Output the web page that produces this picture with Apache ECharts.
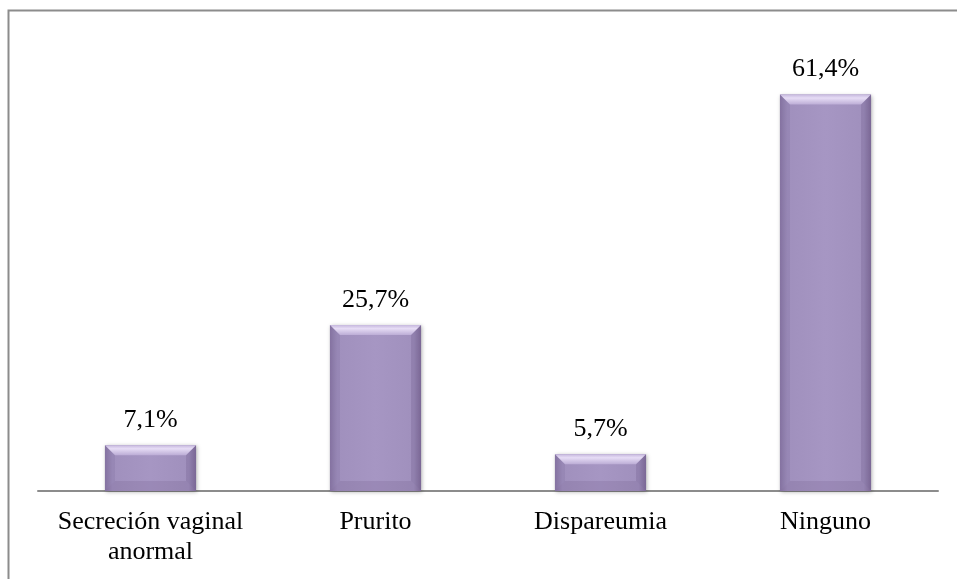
<!DOCTYPE html>
<html>
<head>
<meta charset="utf-8">
<script src="https://cdn.jsdelivr.net/npm/echarts@6/dist/echarts.min.js"></script>
<style>
  html, body { margin: 0; padding: 0; background: #ffffff; }
  #chart { width: 957px; height: 579px; }
</style>
</head>
<body>
<div id="chart"></div>
<script>
// Síntomas referidos (porcentaje de pacientes)
const categories = ['Secreción vaginal\nanormal', 'Prurito', 'Dispareumia', 'Ninguno'];
const percentages = [7.1, 25.7, 5.7, 61.4];

const FONT = '"Liberation Serif", "Times New Roman", serif';

function fmt(v) {
  return v.toFixed(1).replace('.', ',') + '%';
}

// Bevelled bar: body with side shading plus light top edge
function renderBar(params, api) {
  const idx = api.value(0);
  const val = api.value(1);
  const top = api.coord([idx, val]);
  const base = api.coord([idx, 0]);
  const w = api.size([1, 0])[0] * 0.405;
  const x0 = top[0] - w / 2;
  const x1 = top[0] + w / 2;
  const y0 = top[1];
  const y1 = base[1];
  const h = y1 - y0;
  const b = Math.min(10, h / 2.5, w / 6);

  const body = {
    type: 'linear', x: 0, y: 0, x2: 1, y2: 0,
    colorStops: [
      { offset: 0, color: '#8a78a6' },
      { offset: 0.08, color: '#a090bd' },
      { offset: 0.5, color: '#a696c3' },
      { offset: 0.92, color: '#a090bd' },
      { offset: 1, color: '#85729f' }
    ]
  };

  return {
    type: 'group',
    children: [
      {
        type: 'rect',
        shape: { x: x0, y: y0, width: w, height: h },
        style: { fill: body, shadowColor: 'rgba(0,0,0,0.3)', shadowBlur: 4, shadowOffsetX: 1, shadowOffsetY: 1 }
      },
      {
        type: 'polygon',
        shape: { points: [[x0, y0], [x1, y0], [x1 - b, y0 + b], [x0 + b, y0 + b]] },
        style: {
          fill: {
            type: 'linear', x: 0, y: 0, x2: 0, y2: 1,
            colorStops: [
              { offset: 0, color: '#c6b8de' },
              { offset: 0.35, color: '#e6dcf5' },
              { offset: 1, color: '#bcadd6' }
            ]
          }
        }
      },
      {
        type: 'polygon',
        shape: { points: [[x0, y0], [x0 + b, y0 + b], [x0 + b, y1 - b], [x0, y1]] },
        style: { fill: 'rgba(90,70,120,0.12)' }
      },
      {
        type: 'polygon',
        shape: { points: [[x1, y0], [x1 - b, y0 + b], [x1 - b, y1 - b], [x1, y1]] },
        style: { fill: 'rgba(70,50,100,0.16)' }
      },
      {
        type: 'polygon',
        shape: { points: [[x0, y1], [x0 + b, y1 - b], [x1 - b, y1 - b], [x1, y1]] },
        style: { fill: 'rgba(70,50,100,0.12)' }
      },
      {
        type: 'text',
        style: {
          text: fmt(val),
          x: top[0],
          y: y0 - 12,
          align: 'center',
          verticalAlign: 'bottom',
          font: '26px ' + FONT,
          fill: '#000000'
        }
      }
    ]
  };
}

const chart = echarts.init(document.getElementById('chart'));
chart.setOption({
  animation: false,
  backgroundColor: '#ffffff',
  graphic: [{
    type: 'rect',
    shape: { x: 8.5, y: 10.5, width: 1200, height: 1200 },
    style: { fill: 'none', stroke: '#8c8c8c', lineWidth: 2 },
    silent: true
  }],
  grid: { left: 38, right: 19, top: 39, bottom: 88 },
  xAxis: {
    type: 'category',
    data: categories,
    axisLine: { lineStyle: { color: '#8c8c8c', width: 2 } },
    axisTick: { show: false },
    axisLabel: {
      interval: 0,
      margin: 16,
      color: '#000000',
      fontFamily: FONT,
      fontSize: 26,
      lineHeight: 30
    }
  },
  yAxis: {
    type: 'value',
    min: 0,
    max: 70,
    show: false,
    splitLine: { show: false }
  },
  series: [{
    type: 'custom',
    renderItem: renderBar,
    encode: { x: 0, y: 1 },
    data: percentages.map((v, i) => [i, v]),
    z: 3
  }]
});
</script>
</body>
</html>
